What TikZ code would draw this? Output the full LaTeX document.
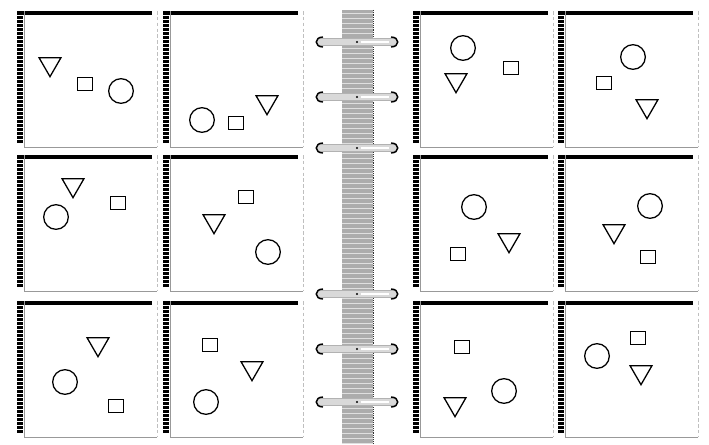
\documentclass[tikz,border=0pt]{standalone}
\usetikzlibrary{shapes.geometric}
\tikzset{
  pagebox/.style = {anchor=north west,minimum width=4.2cm,minimum height=4.08cm,inner sep=0pt},
  circ/.style    = {circle,draw,line width=1.1pt,minimum size=0.74cm,inner sep=0pt},
  sqr/.style     = {rectangle,draw,line width=1.1pt,minimum width=0.45cm,minimum height=0.38cm,inner sep=0pt},
  tri/.style     = {regular polygon,regular polygon sides=3,shape border rotate=180,draw,
                    line width=1.1pt,minimum size=0.76cm,inner sep=0pt},
  spinebox/.style = {fill=gray!65,minimum width=0.93cm,minimum height=13.02cm,inner sep=0pt},
  ringbar/.style = {draw=gray!60,fill=gray!30,line width=0.6pt,rounded corners=0.9mm}
}
% one page of the organiser: #1,#2 top left corner, #3 name
\newcommand{\page}[3]{%
  \node[pagebox] (#3) at (#1,#2) {};
  \fill[black] (#3.north west) rectangle ++(6,133);
  \foreach \k in {1,...,33}
    \draw[white,line width=0.35pt] (#1,#2+4*\k) -- ++(6,0);
  \fill[black] (#3.north west) rectangle ++(135,3.5);
  \draw[gray!80,line width=0.6pt] ([xshift=0.21cm]#3.north west) -- ([xshift=0.21cm]#3.south west) -- (#3.south east);
  \draw[gray!50,densely dashed,line width=0.5pt] (#3.north east) -- (#3.south east);
}

\begin{document}
\begin{tikzpicture}[x=0.03cm,y=-0.03cm]
  \useasboundingbox[fill=white] (0,0) rectangle (709,444);
  % spine
  \node[spinebox] (spine) at (357.5,227) {};
  \foreach \y in {13,18,...,443}
    \draw[gray!25,line width=0.4pt] (342,\y) -- (373,\y);
  \draw[gray!40!black,densely dotted,line width=0.6pt] (spine.north east) -- (spine.south east);
  % rings
  \foreach \y in {42,97,148,294,349,402} {
    \draw[ringbar] (317,\y-3.5) rectangle (397,\y+3.5);
    \draw[white,line width=1pt] (361,\y) -- (389,\y);
    \draw[line width=1.2pt] (323,\y-5) .. controls (314,\y-5) and (314,\y+5) .. (323,\y+5);
    \draw[line width=1.2pt] (391,\y-5) .. controls (400,\y-5) and (400,\y+5) .. (391,\y+5);
    \fill (357,\y) circle (1pt);
  }
  % pages
  \page{17}{11}{pa}
  \page{163}{11}{pb}
  \page{413}{11}{pc}
  \page{558}{11}{pd}
  \page{17}{155}{pe}
  \page{163}{155}{pf}
  \page{413}{155}{pg}
  \page{558}{155}{ph}
  \page{17}{301}{pi}
  \page{163}{301}{pj}
  \page{413}{301}{pk}
  \page{558}{301}{pl}
  % row 1
  \node[tri]  (ta) at (50,64) {};
  \node[sqr]  (sa) at (85,84) {};
  \node[circ] (ca) at (121,91) {};
  \node[circ] (cb) at (202,120) {};
  \node[sqr]  (sb) at (236,123) {};
  \node[tri]  (tb) at (267,102) {};
  \node[circ] (cc) at (463,48) {};
  \node[tri]  (tc) at (456,80) {};
  \node[sqr]  (sc) at (511,68) {};
  \node[circ] (cd) at (633,57) {};
  \node[sqr]  (sd) at (604,83) {};
  \node[tri]  (td) at (647,106) {};
  % row 2
  \node[tri]  (te) at (73,185) {};
  \node[circ] (ce) at (56,217) {};
  \node[sqr]  (se) at (118,203) {};
  \node[sqr]  (sf) at (246,197) {};
  \node[tri]  (tf) at (214,221) {};
  \node[circ] (cf) at (268,252) {};
  \node[circ] (cg) at (474,207) {};
  \node[sqr]  (sg) at (458,254) {};
  \node[tri]  (tg) at (509,240) {};
  \node[circ] (ch) at (650,206) {};
  \node[tri]  (th) at (614,231) {};
  \node[sqr]  (sh) at (648,257) {};
  % row 3
  \node[tri]  (ti) at (98,344) {};
  \node[circ] (ci) at (65,382) {};
  \node[sqr]  (si) at (116,406) {};
  \node[sqr]  (sj) at (210,345) {};
  \node[tri]  (tj) at (252,368) {};
  \node[circ] (cj) at (206,402) {};
  \node[sqr]  (sk) at (462,347) {};
  \node[circ] (ck) at (504,391) {};
  \node[tri]  (tk) at (455,404) {};
  \node[circ] (cl) at (597,356) {};
  \node[sqr]  (sl) at (638,338) {};
  \node[tri]  (tl) at (641,372) {};
\end{tikzpicture}
\end{document}
